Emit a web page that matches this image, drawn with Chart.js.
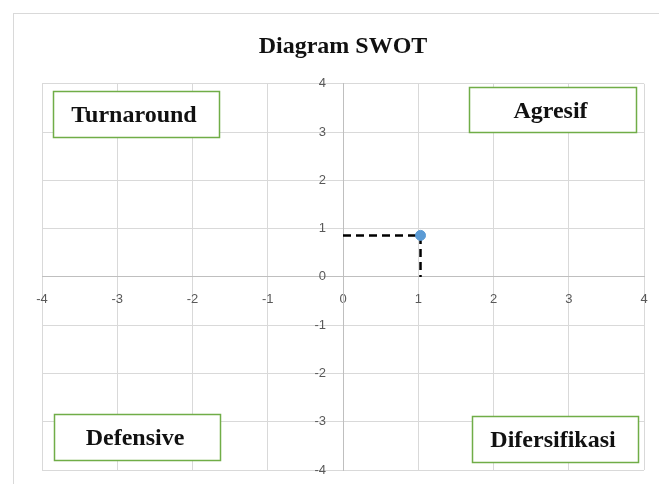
<!DOCTYPE html>
<html>
<head>
<meta charset="utf-8">
<script src="https://cdn.jsdelivr.net/npm/chart.js@4"></script>
<style>
  html, body { margin: 0; padding: 0; background: #fff; }
  #wrap { width: 659px; height: 484px; position: relative; }
</style>
</head>
<body>
<div id="wrap"><canvas id="c" width="659" height="484"></canvas></div>
<script>
// ---- data ----
const chartTitle = 'Diagram SWOT';
const xTickValues = [-4, -3, -2, -1, 0, 1, 2, 3, 4];
const yTickValues = [-4, -3, -2, -1, 0, 1, 2, 3, 4];
const pointX = [1.03];
const pointY = [0.86];
const quadrantLabels = ['Turnaround', 'Agresif', 'Defensive', 'Difersifikasi'];

// ---- layout of annotation boxes (pixels) ----
const quadrantBoxes = [
  { x: 53, y: 91, w: 166, h: 46 },
  { x: 469, y: 87, w: 167, h: 45 },
  { x: 54, y: 414, w: 166, h: 46 },
  { x: 472, y: 416, w: 166, h: 46 }
];

const guideData = [
  { x: 0, y: pointY[0] },
  { x: pointX[0], y: pointY[0] },
  { x: pointX[0], y: 0 }
];

const tickFont = '13px "Liberation Sans", Arial, sans-serif';

const framePlugin = {
  id: 'frame',
  beforeDraw(chart) {
    const ctx = chart.ctx;
    ctx.save();
    ctx.fillStyle = '#ffffff';
    ctx.fillRect(0, 0, chart.width, chart.height);
    ctx.strokeStyle = '#d9d9d9';
    ctx.lineWidth = 1;
    ctx.strokeRect(13.5, 13.5, 800, 800);
    ctx.restore();
  }
};

const yLabelsPlugin = {
  id: 'yLabels',
  afterDatasetsDraw(chart) {
    const ctx = chart.ctx;
    const xs = chart.scales.x, ys = chart.scales.y;
    const x0 = xs.getPixelForValue(0);
    ctx.save();
    ctx.font = tickFont;
    ctx.fillStyle = '#595959';
    ctx.textAlign = 'right';
    ctx.textBaseline = 'middle';
    yTickValues.forEach(v => {
      ctx.fillText(String(v), x0 - 17, ys.getPixelForValue(v));
    });
    ctx.restore();
  }
};

const boxesPlugin = {
  id: 'boxes',
  afterDatasetsDraw(chart) {
    const ctx = chart.ctx;
    ctx.save();
    quadrantBoxes.forEach((b, i) => {
      ctx.fillStyle = '#ffffff';
      ctx.fillRect(b.x, b.y, b.w, b.h);
      ctx.strokeStyle = '#70ad47';
      ctx.lineWidth = 1.5;
      ctx.strokeRect(b.x + 0.5, b.y + 0.5, b.w, b.h);
      ctx.fillStyle = '#111111';
      ctx.font = 'bold 24px "Liberation Serif", "Times New Roman", serif';
      ctx.textAlign = 'center';
      ctx.textBaseline = 'alphabetic';
      ctx.fillText(quadrantLabels[i], b.x + b.w / 2 - 2, b.y + b.h / 2 + 8);
    });
    ctx.restore();
  }
};

const zeroPad = (s) => { s.paddingLeft = 0; s.paddingRight = 0; s.paddingTop = 0; s.paddingBottom = 0; };

new Chart(document.getElementById('c'), {
  type: 'scatter',
  data: {
    datasets: [
      {
        label: 'Posisi',
        data: pointX.map((x, i) => ({ x: x, y: pointY[i] })),
        backgroundColor: '#5b9bd5',
        borderColor: '#5b9bd5',
        pointRadius: 5,
        pointHoverRadius: 5
      },
      {
        label: 'Guide',
        data: guideData,
        showLine: true,
        borderColor: '#000000',
        borderWidth: 2.5,
        borderDash: [8, 5],
        pointRadius: 0,
        fill: false
      }
    ]
  },
  plugins: [framePlugin, yLabelsPlugin, boxesPlugin],
  options: {
    responsive: false,
    animation: false,
    layout: { padding: { left: 42, right: 15, top: 0, bottom: 14 } },
    plugins: {
      legend: { display: false },
      tooltip: { enabled: false },
      title: {
        display: true,
        text: chartTitle,
        color: '#111111',
        font: { family: '"Liberation Serif", "Times New Roman", serif', size: 24, weight: 'bold', lineHeight: 1.2 },
        padding: { top: 32, bottom: 23 }
      }
    },
    scales: {
      x: {
        type: 'linear',
        min: -4, max: 4,
        position: { y: 0 },
        afterBuildTicks: (s) => { s.ticks = xTickValues.map(v => ({ value: v })); },
        afterFit: zeroPad,
        grid: { color: '#d9d9d9', drawTicks: false, lineWidth: 1 },
        border: { display: true, color: '#bfbfbf', width: 1 },
        ticks: { color: '#595959', font: { family: '"Liberation Sans", Arial, sans-serif', size: 13 }, padding: 15, maxRotation: 0 }
      },
      y: {
        type: 'linear',
        min: -4, max: 4,
        position: { x: 0 },
        afterBuildTicks: (s) => { s.ticks = yTickValues.map(v => ({ value: v })); },
        afterFit: zeroPad,
        grid: { color: '#d9d9d9', drawTicks: false, lineWidth: 1 },
        border: { display: true, color: '#bfbfbf', width: 1 },
        ticks: { display: false }
      }
    }
  }
});
</script>
</body>
</html>
